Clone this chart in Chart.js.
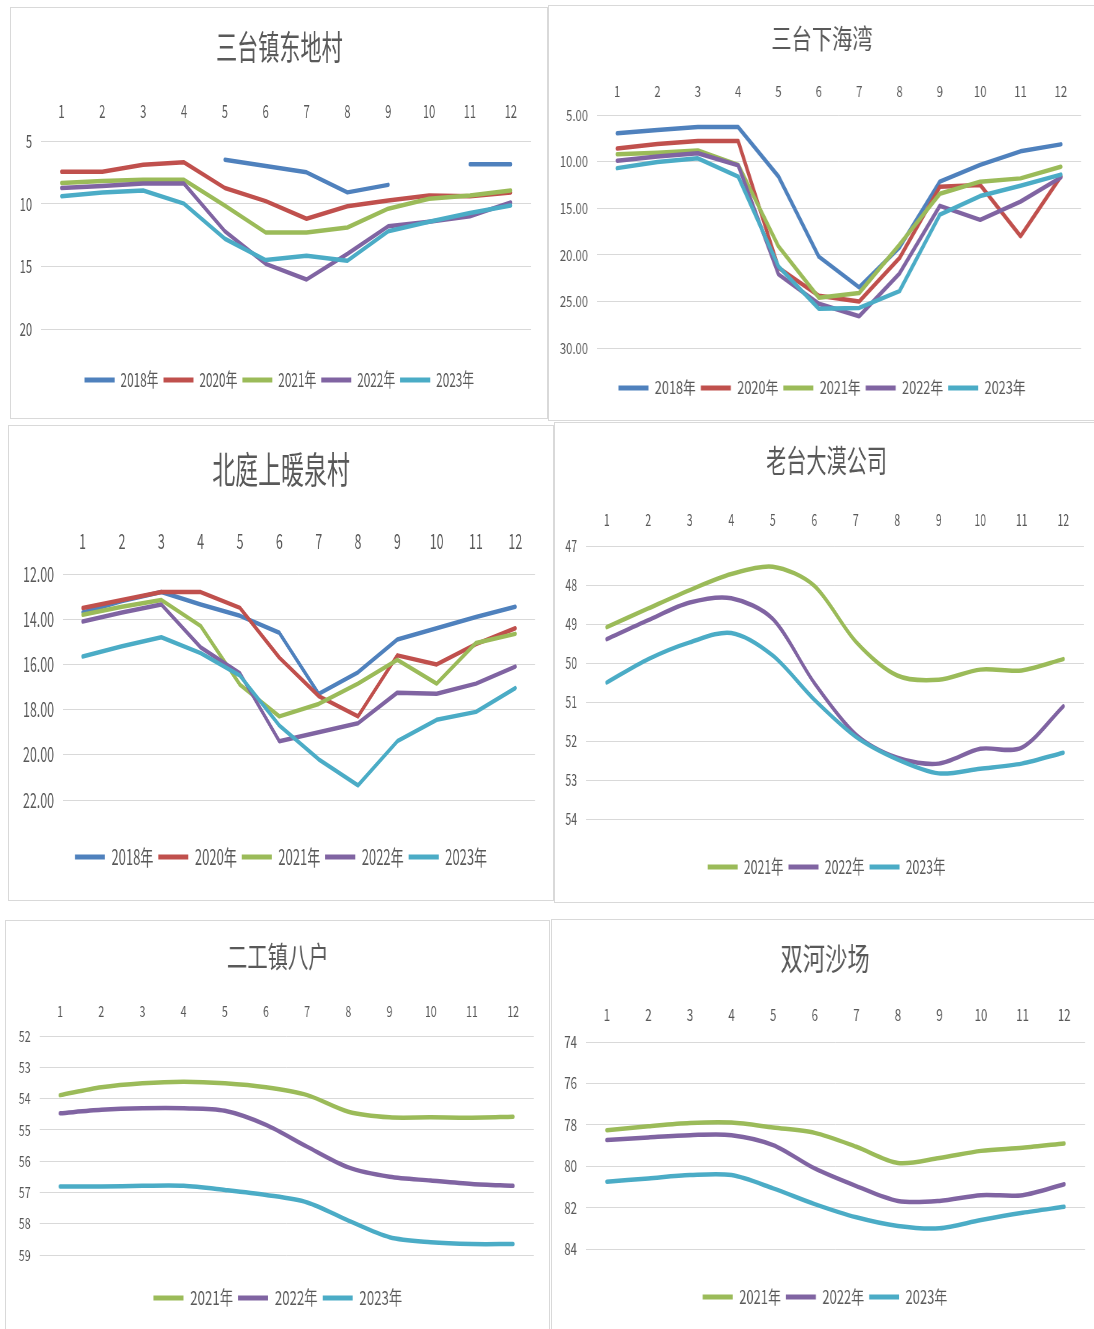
<!DOCTYPE html>
<html>
<head>
<meta charset="utf-8">
<script src="https://cdn.jsdelivr.net/npm/chart.js@4.4.1/dist/chart.umd.min.js"></script>
<style>
  body { margin: 0; background: #fff; width: 1094px; height: 1329px; overflow: hidden; position: relative; }
  .panel { position: absolute; border: 1px solid #d9d9d9; box-sizing: border-box; overflow: hidden; background: #fff; }
  .inner { position: absolute; left: 0; top: 0; transform-origin: 0 0; }
</style>
</head>
<body>
<div class="panel" id="p1"><div class="inner"><canvas></canvas></div></div>
<div class="panel" id="p2"><div class="inner"><canvas></canvas></div></div>
<div class="panel" id="p3"><div class="inner"><canvas></canvas></div></div>
<div class="panel" id="p4"><div class="inner"><canvas></canvas></div></div>
<div class="panel" id="p5"><div class="inner"><canvas></canvas></div></div>
<div class="panel" id="p6"><div class="inner"><canvas></canvas></div></div>
<script>
const months = ['1', '2', '3', '4', '5', '6', '7', '8', '9', '10', '11', '12'];

// 三台镇东地村
const dongdi2018 = [null, null, null, null, 6.5, 7.0, 7.5, 9.1, 8.5, null, 6.85, 6.85];
const dongdi2020 = [7.45, 7.45, 6.9, 6.7, 8.75, 9.8, 11.2, 10.2, 9.75, 9.35, 9.4, 9.1];
const dongdi2021 = [8.35, 8.2, 8.1, 8.1, 10.15, 12.3, 12.3, 11.9, 10.4, 9.6, 9.35, 8.95];
const dongdi2022 = [8.75, 8.6, 8.4, 8.4, 12.2, 14.8, 16.05, 14.0, 11.8, 11.45, 11.0, 9.9];
const dongdi2023 = [9.4, 9.1, 8.95, 10.0, 12.8, 14.5, 14.15, 14.55, 12.2, 11.45, 10.75, 10.15];

// 三台下海湾
const xiahai2018 = [6.96, 6.6, 6.3, 6.3, 11.6, 20.2, 23.5, 19.2, 12.15, 10.35, 8.9, 8.15];
const xiahai2020 = [8.6, 8.1, 7.8, 7.8, 21.4, 24.4, 25.0, 20.35, 12.7, 12.5, 18.0, 11.6];
const xiahai2021 = [9.2, 9.05, 8.8, 10.35, 19.1, 24.6, 24.1, 18.9, 13.45, 12.15, 11.8, 10.55];
const xiahai2022 = [9.9, 9.45, 9.1, 10.4, 22.1, 25.25, 26.6, 22.0, 14.75, 16.25, 14.3, 11.7];
const xiahai2023 = [10.7, 10.05, 9.65, 11.6, 21.25, 25.8, 25.7, 23.9, 15.7, 13.7, 12.6, 11.4];

// 北庭上暖泉村
const nuanquan2018 = [13.7, 13.2, 12.8, 13.35, 13.85, 14.6, 17.3, 16.35, 14.9, 14.4, 13.9, 13.45];
const nuanquan2020 = [13.5, 13.15, 12.8, 12.8, 13.5, 15.7, 17.4, 18.3, 15.6, 16.0, 15.1, 14.4];
const nuanquan2021 = [13.8, 13.45, 13.15, 14.3, 16.9, 18.3, 17.75, 16.85, 15.8, 16.85, 15.05, 14.65];
const nuanquan2022 = [14.1, 13.7, 13.35, 15.25, 16.4, 19.4, 19.0, 18.6, 17.25, 17.3, 16.85, 16.1];
const nuanquan2023 = [15.65, 15.2, 14.8, 15.5, 16.5, 18.7, 20.2, 21.35, 19.4, 18.45, 18.1, 17.05];

// 老台大漠公司
const damo2021 = [49.08, 48.6, 48.13, 47.72, 47.53, 48.02, 49.45, 50.32, 50.43, 50.17, 50.19, 49.9];
const damo2022 = [49.39, 48.9, 48.45, 48.34, 48.87, 50.51, 51.83, 52.43, 52.58, 52.2, 52.17, 51.11];
const damo2023 = [50.5, 49.9, 49.47, 49.23, 49.81, 50.94, 51.89, 52.47, 52.83, 52.71, 52.58, 52.3];

// 二工镇八户
const bahu2021 = [53.89, 53.64, 53.51, 53.46, 53.51, 53.64, 53.89, 54.42, 54.6, 54.6, 54.61, 54.58];
const bahu2022 = [54.47, 54.36, 54.31, 54.31, 54.39, 54.84, 55.54, 56.2, 56.5, 56.62, 56.73, 56.79];
const bahu2023 = [56.81, 56.81, 56.79, 56.79, 56.92, 57.08, 57.32, 57.9, 58.43, 58.59, 58.65, 58.65];

// 双河沙场
const shahe2021 = [78.26, 78.07, 77.91, 77.89, 78.13, 78.39, 79.06, 79.84, 79.6, 79.26, 79.11, 78.9];
const shahe2022 = [78.74, 78.61, 78.5, 78.5, 78.98, 80.11, 80.96, 81.68, 81.68, 81.4, 81.4, 80.87];
const shahe2023 = [80.75, 80.59, 80.43, 80.43, 81.07, 81.83, 82.47, 82.89, 83.0, 82.6, 82.25, 81.96];

const FONT = '"Noto Sans CJK SC", "Noto Sans", sans-serif';
const GRAY = '#595959';
const colors = {
  '2018年': '#4F81BD',
  '2020年': '#C0504D',
  '2021年': '#9BBB59',
  '2022年': '#8064A2',
  '2023年': '#4BACC6',
};

// layout numbers are in screen px inside each panel; s = horizontal squeeze of the panel
const panels = [
  { id: 'p1', title: '三台镇东地村', box: [10, 7, 538, 412], s: 0.62,
    series: [['2018年', dongdi2018], ['2020年', dongdi2020], ['2021年', dongdi2021], ['2022年', dongdi2022], ['2023年', dongdi2023]],
    y: [5, 20, 5, 0], tension: 0,
    plotLeft: 30, padR: 16.4, plotTop: 133, plotBottom: 321, titleY: 39, xLabY: 103, legY: 372, ft: 34, fx: 18, fl: 19 },
  { id: 'p2', title: '三台下海湾', box: [548, 5, 548, 416], s: 0.75,
    series: [['2018年', xiahai2018], ['2020年', xiahai2020], ['2021年', xiahai2021], ['2022年', xiahai2022], ['2023年', xiahai2023]],
    y: [5, 30, 5, 2], tension: 0,
    plotLeft: 48, padR: 14, plotTop: 109, plotBottom: 342, titleY: 33, xLabY: 85, legY: 382, ft: 27, fx: 15, fl: 17 },
  { id: 'p3', title: '北庭上暖泉村', box: [8, 425, 546, 476], s: 0.62,
    series: [['2018年', nuanquan2018], ['2020年', nuanquan2020], ['2021年', nuanquan2021], ['2022年', nuanquan2022], ['2023年', nuanquan2023]],
    y: [12, 22, 2, 2], tension: 0,
    plotLeft: 54, padR: 18, plotTop: 148, plotBottom: 374, titleY: 44, xLabY: 115.5, legY: 431, ft: 37, fx: 20, fl: 21 },
  { id: 'p4', title: '老台大漠公司', box: [554, 422, 545, 481], s: 0.65,
    series: [['2021年', damo2021], ['2022年', damo2022], ['2023年', damo2023]],
    y: [47, 54, 1, 0], tension: 0.3,
    plotLeft: 31, padR: 14, plotTop: 123, plotBottom: 396, titleY: 37, xLabY: 96.5, legY: 444, ft: 31, fx: 16, fl: 19 },
  { id: 'p5', title: '二工镇八户', box: [5, 920, 545, 420], s: 0.7,
    series: [['2021年', bahu2021], ['2022年', bahu2022], ['2023年', bahu2023]],
    y: [52, 59, 1, 0], tension: 0.3,
    plotLeft: 33.5, padR: 16, plotTop: 115, plotBottom: 334, titleY: 36, xLabY: 90, legY: 377, ft: 29, fx: 15, fl: 19 },
  { id: 'p6', title: '双河沙场', box: [551, 919, 548, 420], s: 0.72,
    series: [['2021年', shahe2021], ['2022年', shahe2022], ['2023年', shahe2023]],
    y: [74, 84, 2, 0], tension: 0.3,
    plotLeft: 34, padR: 13, plotTop: 122, plotBottom: 329, titleY: 38, xLabY: 95, legY: 377, ft: 31, fx: 16, fl: 18 },
];

panels.forEach(p => {
  const [left, top, w, h] = p.box;
  const W = w - 2, H = h - 2;
  const s = p.s;
  const panel = document.getElementById(p.id);
  panel.style.left = left + 'px';
  panel.style.top = top + 'px';
  panel.style.width = w + 'px';
  panel.style.height = h + 'px';
  const inner = panel.querySelector('.inner');
  inner.style.width = (W / s) + 'px';
  inner.style.height = H + 'px';
  inner.style.transform = 'scaleX(' + s + ')';

  const legPad = 5 / s;
  const legTop = p.legY - legPad - p.fl / 2;
  const gapH = legTop - p.plotBottom;
  const padB = H - legTop - (p.fl + legPad + 10);
  const titleBottom = p.titleY + 0.6 * p.ft;
  const [yMin, yMax, yStep, dec] = p.y;
  const n = p.series.length;

  new Chart(inner.querySelector('canvas'), {
    type: 'line',
    data: {
      labels: months,
      datasets: p.series.map(([label, values], i) => ({
        label,
        data: values,
        xAxisID: 'x',
        yAxisID: 'y',
        borderColor: colors[label],
        backgroundColor: colors[label],
        borderWidth: 4.5,
        borderCapStyle: 'round',
        borderJoinStyle: 'round',
        pointRadius: 0,
        pointHoverRadius: 0,
        tension: p.tension,
        spanGaps: false,
        order: n - i,
      })),
    },
    options: {
      responsive: true,
      maintainAspectRatio: false,
      animation: false,
      layout: { padding: { top: 0, left: 0, right: 0, bottom: padB } },
      plugins: {
        title: {
          display: true,
          text: p.title,
          color: GRAY,
          font: { family: FONT, size: p.ft, weight: 'normal' },
          padding: { top: p.titleY - 0.6 * p.ft, bottom: 0 },
        },
        legend: {
          position: 'bottom',
          labels: {
            color: GRAY,
            font: { family: FONT, size: p.fl },
            boxWidth: 30 / s,
            boxHeight: 5,
            padding: legPad,
            sort: (a, b) => a.datasetIndex - b.datasetIndex,
            generateLabels: chart => Chart.defaults.plugins.legend.labels.generateLabels(chart)
              .map(item => Object.assign(item, { lineWidth: 0, fillStyle: item.strokeStyle })),
          },
        },
        tooltip: { enabled: false },
      },
      scales: {
        x: {
          position: 'top',
          offset: true,
          grid: { display: false, drawTicks: false },
          border: { display: false },
          ticks: {
            color: GRAY,
            font: { family: FONT, size: p.fx },
            padding: p.plotTop - p.xLabY - 0.6 * p.fx,
            maxRotation: 0,
            autoSkip: false,
          },
          afterFit: sc => { sc.height = p.plotTop - titleBottom; },
        },
        gap: {
          type: 'category',
          position: 'bottom',
          grid: { display: false, drawTicks: false },
          border: { display: false },
          ticks: { display: false },
          afterFit: sc => { sc.height = gapH; },
        },
        y: {
          reverse: true,
          min: yMin,
          max: yMax,
          grid: { color: '#d9d9d9', lineWidth: 1, drawTicks: false },
          border: { display: false },
          ticks: {
            stepSize: yStep,
            color: GRAY,
            font: { family: FONT, size: p.fx },
            padding: 9 / s,
            callback: v => Number(v).toFixed(dec),
          },
          afterFit: sc => { sc.width = p.plotLeft / s; },
        },
        right: {
          type: 'linear',
          position: 'right',
          grid: { display: false, drawTicks: false },
          border: { display: false },
          ticks: { display: false },
          afterFit: sc => { sc.width = p.padR / s; },
        },
      },
    },
  });
});
</script>
</body>
</html>
